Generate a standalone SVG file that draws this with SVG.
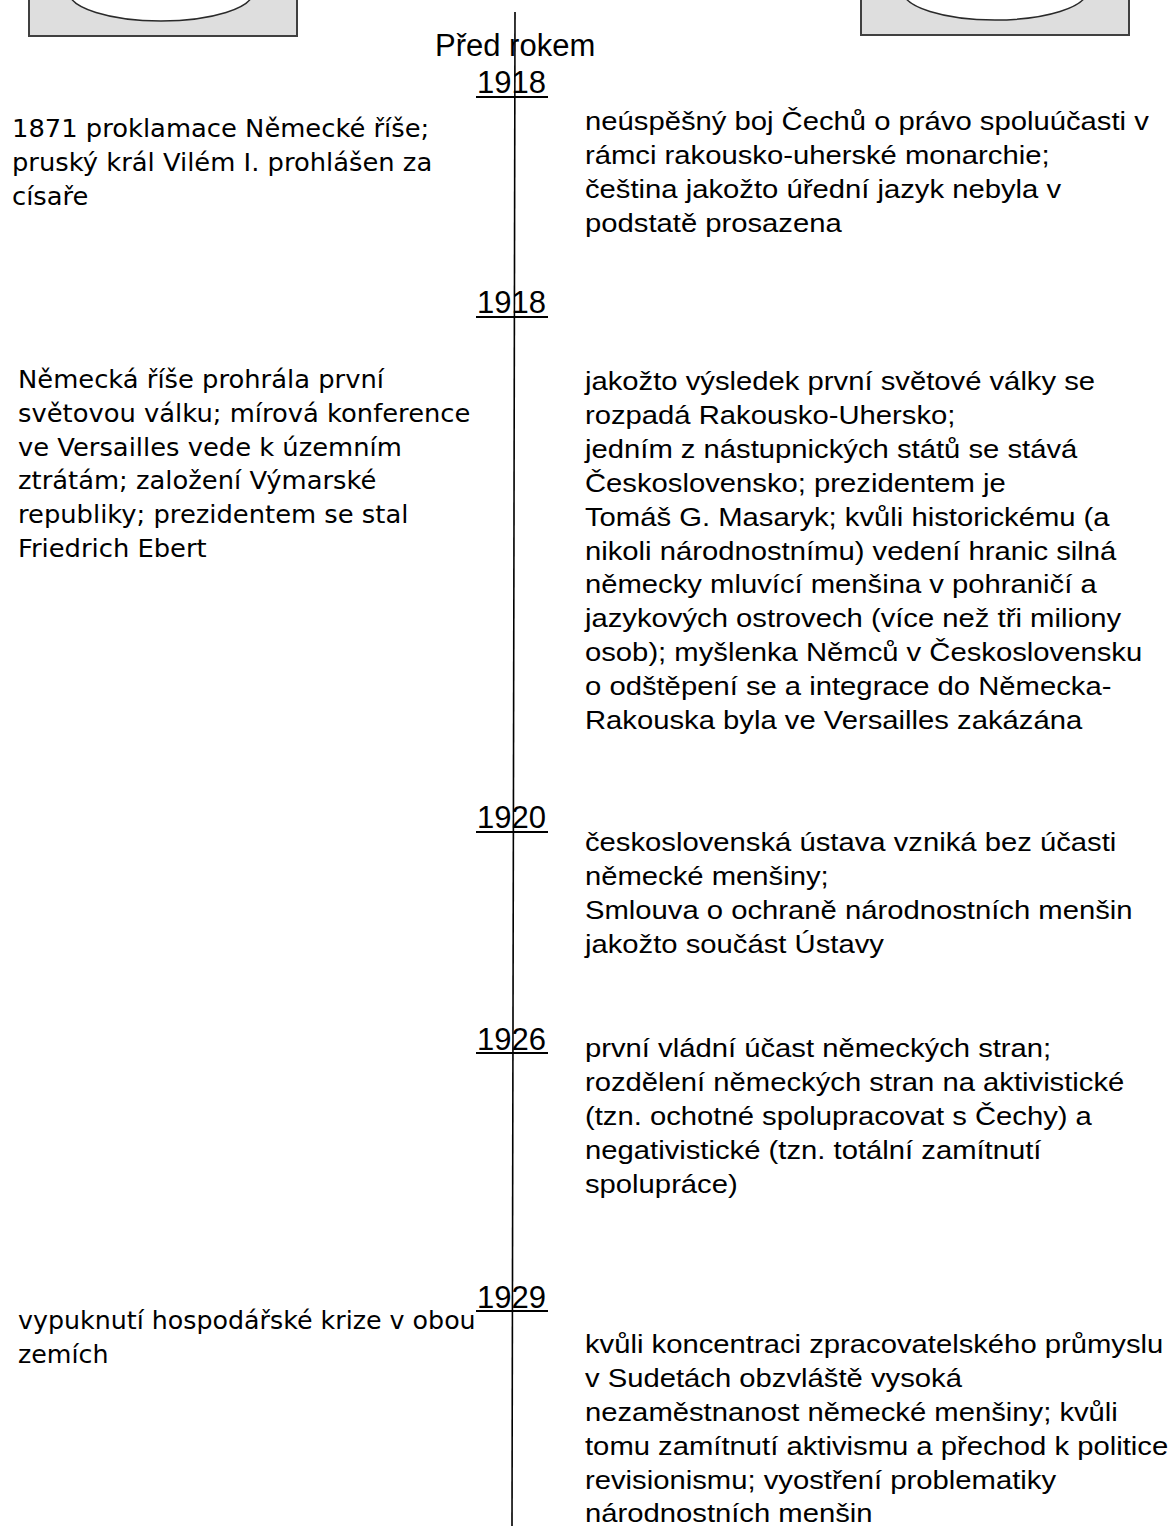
<svg xmlns="http://www.w3.org/2000/svg" width="1171" height="1526" viewBox="0 0 1171 1526">
<style>
.bg{fill:#ffffff}
.frame{fill:#dedede;stroke:#404040;stroke-width:2}
.hole{fill:#ffffff;stroke:#2a2a2a;stroke-width:1.5}
.axis{stroke:#000;stroke-width:1.6;fill:none}
.ul{stroke:#000;stroke-width:2}
.head{font-family:"Liberation Sans",Arial,sans-serif;font-size:31px;fill:#000}
.rt{font-family:"Liberation Sans",Arial,sans-serif;font-size:25px;fill:#000}
.lt{font-family:"DejaVu Sans",Verdana,sans-serif;font-size:24px;fill:#000}
</style>
<rect class="bg" x="0" y="0" width="1171" height="1526"/>
<g id="deco-left">
<rect class="frame" x="29" y="-10" width="268" height="46"/>
<ellipse class="hole" cx="161" cy="-8" rx="92" ry="29"/>
</g>
<g id="deco-right">
<rect class="frame" x="861" y="-10" width="268" height="45"/>
<ellipse class="hole" cx="995" cy="-9" rx="92" ry="29"/>
</g>
<g id="connectors">
<line class="axis" x1="515" y1="12" x2="512" y2="1526"/>
</g>
<g id="year-0">
<text class="head" x="435" y="56">Před rokem</text>
<text class="head" x="477" y="93">1918</text>
<line class="ul" x1="476" y1="97" x2="548" y2="97"/>
</g>
<g id="year-1918">
<text class="head" x="477" y="313">1918</text>
<line class="ul" x1="476" y1="317" x2="548" y2="317"/>
</g>
<g id="year-1920">
<text class="head" x="477" y="828">1920</text>
<line class="ul" x1="476" y1="832" x2="548" y2="832"/>
</g>
<g id="year-1926">
<text class="head" x="477" y="1050">1926</text>
<line class="ul" x1="476" y1="1053" x2="548" y2="1053"/>
</g>
<g id="year-1929">
<text class="head" x="477" y="1308">1929</text>
<line class="ul" x1="476" y1="1311" x2="548" y2="1311"/>
</g>
<g id="left-1" transform="translate(12,0) scale(1.075,1)">
<text class="lt"><tspan x="0" y="137">1871 proklamace Německé říše;</tspan><tspan x="0" y="171">pruský král Vilém I. prohlášen za</tspan><tspan x="0" y="205">císaře</tspan></text>
</g>
<g id="left-2" transform="translate(18,0) scale(1.075,1)">
<text class="lt"><tspan x="0" y="388">Německá říše prohrála první</tspan><tspan x="0" y="422">světovou válku; mírová konference</tspan><tspan x="0" y="456">ve Versailles vede k územním</tspan><tspan x="0" y="489">ztrátám; založení Výmarské</tspan><tspan x="0" y="523">republiky; prezidentem se stal</tspan><tspan x="0" y="557">Friedrich Ebert</tspan></text>
</g>
<g id="left-3" transform="translate(18,0) scale(1.055,1)">
<text class="lt"><tspan x="0" y="1329">vypuknutí hospodářské krize v obou</tspan><tspan x="0" y="1363">zemích</tspan></text>
</g>
<g id="right-1" transform="translate(585,0) scale(1.17,1)">
<text class="rt"><tspan x="0" y="130">neúspěšný boj Čechů o právo spoluúčasti v</tspan><tspan x="0" y="164">rámci rakousko-uherské monarchie;</tspan><tspan x="0" y="198">čeština jakožto úřední jazyk nebyla v</tspan><tspan x="0" y="232">podstatě prosazena</tspan></text>
</g>
<g id="right-2" transform="translate(585,0) scale(1.17,1)">
<text class="rt"><tspan x="0" y="390">jakožto výsledek první světové války se</tspan><tspan x="0" y="424">rozpadá Rakousko-Uhersko;</tspan><tspan x="0" y="458">jedním z nástupnických států se stává</tspan><tspan x="0" y="492">Československo; prezidentem je</tspan><tspan x="0" y="526">Tomáš G. Masaryk; kvůli historickému (a</tspan><tspan x="0" y="560">nikoli národnostnímu) vedení hranic silná</tspan><tspan x="0" y="593">německy mluvící menšina v pohraničí a</tspan><tspan x="0" y="627">jazykových ostrovech (více než tři miliony</tspan><tspan x="0" y="661">osob); myšlenka Němců v Československu</tspan><tspan x="0" y="695">o odštěpení se a integrace do Německa-</tspan><tspan x="0" y="729">Rakouska byla ve Versailles zakázána</tspan></text>
</g>
<g id="right-3" transform="translate(585,0) scale(1.17,1)">
<text class="rt"><tspan x="0" y="851">československá ústava vzniká bez účasti</tspan><tspan x="0" y="885">německé menšiny;</tspan><tspan x="0" y="919">Smlouva o ochraně národnostních menšin</tspan><tspan x="0" y="953">jakožto součást Ústavy</tspan></text>
</g>
<g id="right-4" transform="translate(585,0) scale(1.17,1)">
<text class="rt"><tspan x="0" y="1057">první vládní účast německých stran;</tspan><tspan x="0" y="1091">rozdělení německých stran na aktivistické</tspan><tspan x="0" y="1125">(tzn. ochotné spolupracovat s Čechy) a</tspan><tspan x="0" y="1159">negativistické (tzn. totální zamítnutí</tspan><tspan x="0" y="1193">spolupráce)</tspan></text>
</g>
<g id="right-5" transform="translate(585,0) scale(1.17,1)">
<text class="rt"><tspan x="0" y="1353">kvůli koncentraci zpracovatelského průmyslu</tspan><tspan x="0" y="1387">v Sudetách obzvláště vysoká</tspan><tspan x="0" y="1421">nezaměstnanost německé menšiny; kvůli</tspan><tspan x="0" y="1455">tomu zamítnutí aktivismu a přechod k politice</tspan><tspan x="0" y="1489">revisionismu; vyostření problematiky</tspan><tspan x="0" y="1522">národnostních menšin</tspan></text>
</g>
</svg>
